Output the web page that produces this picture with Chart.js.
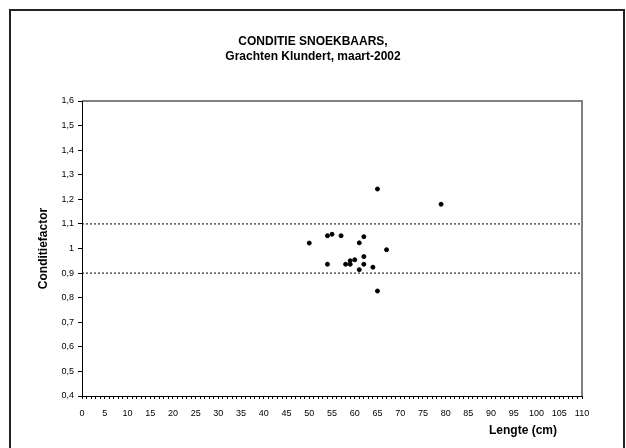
<!DOCTYPE html>
<html>
<head>
<meta charset="utf-8">
<script src="https://cdn.jsdelivr.net/npm/chart.js@4"></script>
<style>
  body { margin: 0; overflow: hidden; background: #fff; }
  #wrap { position: relative; width: 626px; height: 448px; }
  #frame { position: absolute; left: 9px; top: 9px; width: 612px; height: 460px; border: 2px solid #222; }
  canvas { position: absolute; left: 0; top: 0; }
</style>
</head>
<body>
<div id="wrap">
  <div id="frame"></div>
  <canvas id="chart" width="626" height="448"></canvas>
</div>
<script>
// lengte (cm) en conditiefactor van de gevangen snoekbaars
const lengths = [65, 79, 50, 54, 55, 57, 62, 61, 67, 62, 60, 59, 54, 58, 59, 62, 64, 61, 65];
const factors = [1.242, 1.18, 1.022, 1.052, 1.058, 1.052, 1.048, 1.023, 0.995, 0.967, 0.954, 0.95, 0.936, 0.936, 0.936, 0.936, 0.924, 0.914, 0.827];

// grenzen (stippellijnen)
const limits = [1.1, 0.9];
const xRange = [0, 110];
const yRange = [0.4, 1.6];

const titleLines = ["CONDITIE SNOEKBAARS,", "Grachten Klundert, maart-2002"];

const points = lengths.map((x, i) => ({ x: x, y: factors[i] }));

const limitSets = limits.map((v) => ({
  type: "line",
  data: xRange.map((x) => ({ x: x, y: v })),
  borderColor: "#000",
  borderWidth: 1,
  borderDash: [2, 2],
  pointRadius: 0,
  fill: false,
}));

const FONT = "'Liberation Sans', Arial, sans-serif";

// grijze rand boven en rechts van het plotvlak, titel en x-as titel
const framePlugin = {
  id: "framePlugin",
  beforeDraw(chart) {
    const a = chart.chartArea;
    const ctx = chart.ctx;
    ctx.save();
    ctx.strokeStyle = "#808080";
    ctx.lineWidth = 2;
    ctx.beginPath();
    ctx.moveTo(a.left, a.top);
    ctx.lineTo(a.right, a.top);
    ctx.lineTo(a.right, a.bottom);
    ctx.stroke();
    ctx.restore();
  },
  afterDraw(chart) {
    const ctx = chart.ctx;
    ctx.save();
    ctx.font = "bold 12px " + FONT;
    ctx.fillStyle = "#000";
    ctx.textBaseline = "middle";
    ctx.textAlign = "center";
    titleLines.forEach((t, i) => ctx.fillText(t, 313, 42 + i * 15));
    ctx.textAlign = "right";
    ctx.fillText("Lengte (cm)", 557, 431);
    ctx.restore();
  },
};

Chart.defaults.font.family = FONT;
Chart.defaults.color = "#000";

new Chart(document.getElementById("chart"), {
  type: "scatter",
  data: {
    datasets: [
      {
        label: "Conditie",
        data: points,
        backgroundColor: "#000",
        borderColor: "#000",
        pointRadius: 2,
        pointHoverRadius: 2,
      },
      ...limitSets,
    ],
  },
  options: {
    responsive: false,
    animation: false,
    layout: { padding: { top: 101, right: 44, bottom: 0, left: 0 } },
    plugins: {
      legend: { display: false },
      tooltip: { enabled: false },
    },
    scales: {
      x: {
        type: "linear",
        min: xRange[0],
        max: xRange[1],
        afterFit: (s) => { s.height = 52; },
        afterBuildTicks: (s) => {
          const t = [];
          for (let v = xRange[0]; v <= xRange[1]; v++) t.push({ value: v });
          s.ticks = t;
        },
        ticks: {
          autoSkip: false,
          maxRotation: 0,
          padding: 9,
          font: { size: 9 },
          callback: (v) => (v % 5 === 0 ? String(v) : ""),
        },
        grid: { drawOnChartArea: false, tickLength: 3, color: "#000" },
        border: { color: "#000", width: 1 },
      },
      y: {
        min: yRange[0],
        max: yRange[1],
        afterFit: (s) => { s.width = 82; },
        ticks: {
          stepSize: 0.1,
          padding: 4,
          font: { size: 9 },
          callback: (v) => String(Math.round(v * 10) / 10).replace(".", ","),
        },
        title: {
          display: true,
          text: "Conditiefactor",
          font: { size: 12, weight: "bold" },
          padding: { top: 36, bottom: 0 },
        },
        grid: { drawOnChartArea: false, tickLength: 4, color: "#000" },
        border: { color: "#000", width: 1 },
      },
    },
  },
  plugins: [framePlugin],
});
</script>
</body>
</html>
